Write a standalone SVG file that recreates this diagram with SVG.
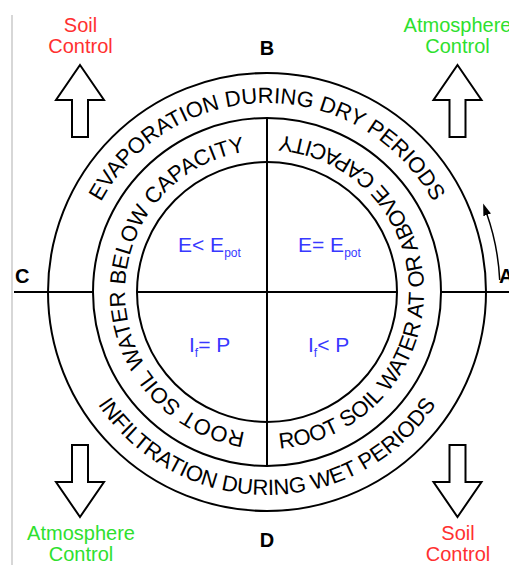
<svg xmlns="http://www.w3.org/2000/svg" xmlns:xlink="http://www.w3.org/1999/xlink" width="509" height="565" viewBox="0 0 509 565">
<style>
.ln{stroke:#000;stroke-width:2;fill:none}
.arc{font-family:"Liberation Sans",Arial,sans-serif;font-size:22px;fill:#000}
.eq{font-family:"Liberation Sans",Arial,sans-serif;font-size:21px;fill:#3838ff}
.sub{font-size:12px}
.lbl{font-family:"Liberation Sans",Arial,sans-serif;font-size:20px;text-anchor:middle}
.red{fill:#ff3030}
.grn{fill:#2ee02e}
.let{font-family:"Liberation Sans",Arial,sans-serif;font-size:20px;font-weight:bold;fill:#000}
.big{fill:#fff;stroke:#000;stroke-width:2}
</style>
<defs>
<path id="pTop" d="M78,292 A189,189 0 0 1 456,292"/>
<path id="pBot" d="M64,292 A203,203 0 0 0 470,292"/>
<path id="pLeft" d="M267,434 A142,142 0 0 1 267,150"/>
<path id="pRight" d="M267,449 A157,157 0 0 0 267,135"/>
<path id="upArrow" d="M0,0 L24,35 L8,35 L8,72 L-8,72 L-8,35 L-24,35 Z"/>
<path id="downArrow" d="M0,0 L24,-35 L8,-35 L8,-72 L-8,-72 L-8,-35 L-24,-35 Z"/>
<marker id="ah" viewBox="0 0 12 8" refX="2" refY="4" markerWidth="12" markerHeight="8" markerUnits="userSpaceOnUse" orient="auto">
<path d="M0,0 L12,4 L0,8 Z" fill="#000"/>
</marker>
</defs>
<line x1="12" y1="15" x2="12" y2="565" stroke="#bdbdbd" stroke-width="1.2"/>
<g id="circles">
<circle cx="267" cy="292" r="219" class="ln"/>
<circle cx="267" cy="292" r="174" class="ln"/>
<circle cx="267" cy="292" r="130" class="ln"/>
</g>
<g id="connectors">
<line x1="14" y1="292" x2="93" y2="292" class="ln"/>
<line x1="137" y1="292" x2="397" y2="292" class="ln"/>
<line x1="441" y1="292" x2="509" y2="292" class="ln"/>
<line x1="267" y1="118" x2="267" y2="466" class="ln"/>
<path d="M499.7,280 A233,233 0 0 0 486.5,213" stroke="#000" stroke-width="1.5" fill="none" marker-end="url(#ah)"/>
</g>
<g id="ringText">
<text class="arc"><textPath xlink:href="#pTop" href="#pTop" startOffset="50%" text-anchor="middle">EVAPORATION DURING DRY PERIODS</textPath></text>
<text class="arc"><textPath xlink:href="#pBot" href="#pBot" startOffset="50%" text-anchor="middle">INFILTRATION DURING WET PERIODS</textPath></text>
<text class="arc"><textPath xlink:href="#pLeft" href="#pLeft" startOffset="50%" text-anchor="middle">ROOT SOIL WATER BELOW CAPACITY</textPath></text>
<text class="arc"><textPath xlink:href="#pRight" href="#pRight" startOffset="50%" text-anchor="middle">ROOT SOIL WATER AT OR ABOVE CAPACITY</textPath></text>
</g>
<g id="q1"><text x="178" y="252" class="eq">E&lt; E<tspan class="sub" dy="5">pot</tspan></text></g>
<g id="q2"><text x="298" y="252" class="eq">E= E<tspan class="sub" dy="5">pot</tspan></text></g>
<g id="q3"><text x="189" y="352" class="eq">I<tspan class="sub" dy="5">f</tspan><tspan dy="-5">= P</tspan></text></g>
<g id="q4"><text x="308" y="352" class="eq">I<tspan class="sub" dy="5">f</tspan><tspan dy="-5">&lt; P</tspan></text></g>
<g id="labels">
<text x="267" y="55" class="let" text-anchor="middle">B</text>
<text x="267" y="547" class="let" text-anchor="middle">D</text>
<text x="15" y="283" class="let">C</text>
<text x="499" y="283" class="let">A</text>
</g>
<g id="topLeft">
<use href="#upArrow" xlink:href="#upArrow" transform="translate(80,65)" class="big"/>
<text x="80.5" y="32" class="lbl red">Soil</text>
<text x="80.5" y="53" class="lbl red">Control</text>
</g>
<g id="topRight">
<use href="#upArrow" xlink:href="#upArrow" transform="translate(457.5,65)" class="big"/>
<text x="457.5" y="32" class="lbl grn">Atmosphere</text>
<text x="457.5" y="53" class="lbl grn">Control</text>
</g>
<g id="bottomLeft">
<use href="#downArrow" xlink:href="#downArrow" transform="translate(80,517)" class="big"/>
<text x="81" y="540" class="lbl grn">Atmosphere</text>
<text x="81" y="561" class="lbl grn">Control</text>
</g>
<g id="bottomRight">
<use href="#downArrow" xlink:href="#downArrow" transform="translate(457.5,517)" class="big"/>
<text x="458" y="540" class="lbl red">Soil</text>
<text x="458" y="561" class="lbl red">Control</text>
</g>
</svg>
